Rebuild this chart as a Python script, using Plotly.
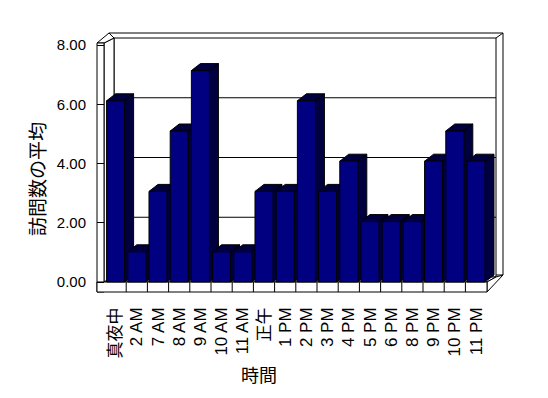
import plotly.graph_objects as go

# ---- data ----
categories = ["真夜中", "2 AM", "7 AM", "8 AM", "9 AM", "10 AM", "11 AM", "正午",
              "1 PM", "2 PM", "3 PM", "4 PM", "5 PM", "6 PM", "8 PM", "9 PM",
              "10 PM", "11 PM"]
values = [6, 1, 3, 5, 7, 1, 1, 3, 3, 6, 3, 4, 2, 2, 2, 4, 5, 4]
y_ticks = [0, 2, 4, 6, 8]
x_title = "時間"
y_title = "訪問数の平均"

# ---- layout geometry (pixels) ----
W, H = 548, 398
L, R, T, B = 97, 497, 28, 292          # plot area
PX_PER_CAT = 21.2
X0_PX = 105                             # pixel of x = -0.5
PX_PER_VAL = 30.2
Y0_PX = 282                             # pixel of value 0 (bar fronts)
LBL_PX_PER_VAL = 29.625                 # front-wall label scale

xr = [-0.5 - (X0_PX - L) / PX_PER_CAT, -0.5 + (R - X0_PX) / PX_PER_CAT]
yr = [-(B - Y0_PX) / PX_PER_VAL, (Y0_PX - T) / PX_PER_VAL]
yr_lbl = [-(B - Y0_PX) / LBL_PX_PER_VAL, (Y0_PX - T) / LBL_PX_PER_VAL]

BAR_W = 0.85
DDX = 9 / PX_PER_CAT
DDY = 7 / PX_PER_VAL
FRONT = "#000080"
SHADE = "#000040"
FONT = "Liberation Sans, Noto Sans CJK JP, sans-serif"


def P(px, py):
    return (px - L) / (R - L), (B - py) / (B - T)


def path(pts):
    s = ""
    for k, (px, py) in enumerate(pts):
        x, y = P(px, py)
        s += ("M" if k == 0 else " L") + f" {x:.5f},{y:.5f}"
    return s + " Z"


def poly(pts, fill="white"):
    return dict(type="path", path=path(pts), xref="paper", yref="paper",
                fillcolor=fill, line=dict(color="black", width=1), layer="below")


def seg(p1, p2):
    x0, y0 = P(*p1)
    x1, y1 = P(*p2)
    return dict(type="line", x0=x0, y0=y0, x1=x1, y1=y1, xref="paper", yref="paper",
                line=dict(color="black", width=1), layer="below")


shapes = []
# back wall slab
shapes.append(poly([(109, 33), (503, 33), (503, 275), (109, 275)]))
shapes.append(poly([(114, 38), (496, 38), (496, 277), (114, 277)]))
shapes.append(seg((496, 38), (503, 33)))
# back-wall gridlines
for v in y_ticks[1:-1]:
    yy = 277 - v * (277 - 38) / y_ticks[-1]
    shapes.append(seg((114, yy), (496, yy)))
# left wall slab
shapes.append(poly([(104, 43), (114, 38), (114, 277), (104, 282)]))
shapes.append(poly([(97, 43), (109, 33), (114, 38), (104, 43)]))
shapes.append(poly([(97, 43), (104, 43), (104, 292), (97, 292)]))
# floor slab
shapes.append(poly([(104, 282), (487, 282), (496, 277), (114, 277)]))
shapes.append(poly([(487, 282), (496, 277), (503, 275), (487, 292)]))
shapes.append(poly([(97, 282), (487, 282), (487, 292), (97, 292)]))
# floor front dividers at category boundaries
for i in range(len(categories) - 1):
    xb = i + 0.5
    shapes.append(dict(type="line", xref="x", yref="paper", x0=xb, x1=xb,
                       y0=P(0, 292)[1], y1=P(0, 282)[1],
                       line=dict(color="black", width=1), layer="below"))

fig = go.Figure()
xs = list(range(len(categories)))

# top and side faces (per bar, in order)
for i, v in zip(xs, values):
    l, r = i - BAR_W / 2, i + BAR_W / 2
    px = [l, r, r + DDX, l + DDX, l, None, r, r + DDX, r + DDX, r, r]
    py = [v, v, v + DDY, v + DDY, v, None, 0, DDY, v + DDY, v, 0]
    fig.add_trace(go.Scatter(x=px, y=py, mode="lines", fill="toself",
                             fillcolor=SHADE, line=dict(color="black", width=1),
                             hoverinfo="skip", showlegend=False,
                             xaxis="x", yaxis="y"))

# front faces
fig.add_trace(go.Bar(x=xs, y=values, width=BAR_W, marker=dict(
    color=FRONT, line=dict(color="black", width=1)),
    showlegend=False, xaxis="x2", yaxis="y2"))

# carrier for the front-wall value axis (invisible)
fig.add_trace(go.Scatter(x=[xs[0]] * len(y_ticks), y=y_ticks, mode="markers",
                         marker=dict(opacity=0), hoverinfo="skip",
                         showlegend=False, xaxis="x", yaxis="y3"))

fig.update_layout(
    width=W, height=H, autosize=False,
    margin=dict(l=L, r=W - R, t=T, b=H - B, pad=0),
    paper_bgcolor="white", plot_bgcolor="rgba(0,0,0,0)",
    font=dict(family=FONT, size=15, color="black"),
    shapes=shapes,
    xaxis=dict(range=xr, tickvals=xs, ticktext=categories, tickangle=-90,
               showgrid=False, zeroline=False, showline=False, ticks="",
               ticklabelstandoff=11, tickfont=dict(size=17)),
    yaxis=dict(range=yr, visible=False),
    xaxis2=dict(range=xr, overlaying="x", visible=False),
    yaxis2=dict(range=yr, overlaying="y", visible=False),
    yaxis3=dict(range=yr_lbl, overlaying="y", anchor="x", side="left",
                tickvals=y_ticks, tickformat=".2f", ticks="inside", ticklen=7,
                tickcolor="black", tickwidth=1, showgrid=False, zeroline=False,
                showline=False, ticklabelstandoff=10, tickfont=dict(size=15)),
    annotations=[
        dict(text=x_title, xref="paper", yref="paper",
             x=P(259, 0)[0], y=P(0, 376)[1], xanchor="center", yanchor="middle",
             showarrow=False, font=dict(size=18)),
        dict(text=y_title, xref="paper", yref="paper", textangle=-90,
             x=P(38, 0)[0], y=P(0, 179)[1], xanchor="center", yanchor="middle",
             showarrow=False, font=dict(size=19)),
    ],
)

fig.write_html("out.html", config={"displayModeBar": False},
               post_script="document.body.style.margin='0px';")
